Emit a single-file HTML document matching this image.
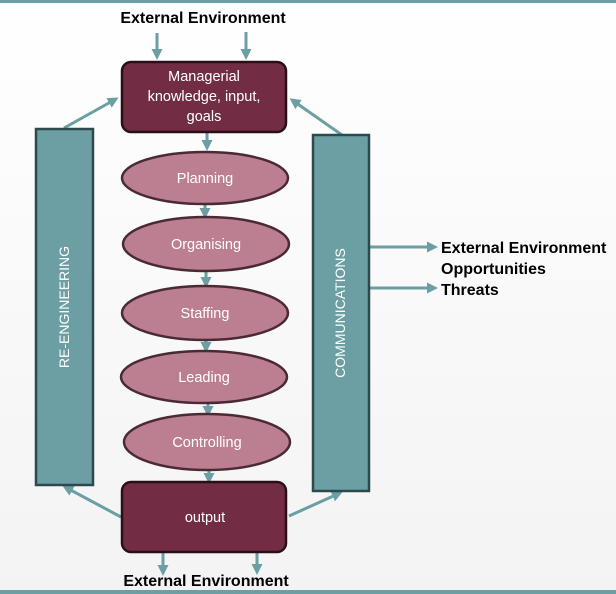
<!DOCTYPE html>
<html><head><style>
body{margin:0;width:616px;height:594px;overflow:hidden;background:linear-gradient(#fff,#f3f3f3);}
svg{display:block}
.b{font-family:"Liberation Sans",sans-serif;font-weight:bold;font-size:16px;fill:#000}
.w{font-family:"Liberation Sans",sans-serif;font-size:14.5px;fill:#fff;text-anchor:middle}
</style></head><body>
<svg width="616" height="594" viewBox="0 0 616 594">
<defs><marker id="a" markerWidth="11" markerHeight="11" refX="8" refY="5.5" orient="auto" markerUnits="userSpaceOnUse"><path d="M0,0 L11,5.5 L0,11 Z" fill="#6b9fa3"/></marker></defs>
<rect x="0" y="0" width="616" height="3" fill="#6b9fa3"/>
<rect x="0" y="590" width="616" height="4" fill="#6b9fa3"/>
<text class="b" x="203" y="23" text-anchor="middle">External Environment</text>
<g stroke="#6b9fa3" stroke-width="3" fill="none" marker-end="url(#a)">
<line x1="157" y1="33" x2="157" y2="57"/>
<line x1="246" y1="32" x2="246" y2="57"/>
<line x1="64" y1="128" x2="116" y2="99"/>
<line x1="342" y1="135" x2="292" y2="100"/>
<line x1="207" y1="131" x2="207" y2="148"/>
<line x1="205" y1="203" x2="205" y2="216"/>
<line x1="206" y1="270" x2="206" y2="285"/>
<line x1="206" y1="339" x2="206" y2="350"/>
<line x1="208" y1="402" x2="208" y2="414"/>
<line x1="209" y1="468" x2="209" y2="481"/>
<line x1="121" y1="517" x2="65" y2="487"/>
<line x1="289" y1="516" x2="340" y2="493"/>
<line x1="163" y1="549" x2="163" y2="573"/>
<line x1="257" y1="548" x2="257" y2="572"/>
<line x1="369" y1="247" x2="435" y2="247"/>
<line x1="369" y1="288" x2="435" y2="288"/>
</g>
<rect x="36" y="129" width="57" height="356" fill="#6b9fa3" stroke="#2c4a4d" stroke-width="2.5"/>
<rect x="313" y="135" width="56" height="356" fill="#6b9fa3" stroke="#2c4a4d" stroke-width="2.5"/>
<text class="w" transform="translate(69,307) rotate(-90)" style="font-size:14px">RE-ENGINEERING</text>
<text class="w" transform="translate(345,313) rotate(-90)" style="font-size:14px">COMMUNICATIONS</text>
<rect x="122" y="62" width="164" height="70" rx="9" fill="#722d45" stroke="#2a0f18" stroke-width="2.5"/>
<text class="w" x="204" y="81">Managerial</text>
<text class="w" x="204" y="101">knowledge, input,</text>
<text class="w" x="204" y="121">goals</text>
<g fill="#bc7f91" stroke="#4a2a35" stroke-width="2.5">
<ellipse cx="205" cy="178" rx="83" ry="26"/>
<ellipse cx="206" cy="244" rx="83" ry="27"/>
<ellipse cx="205" cy="313" rx="83" ry="27"/>
<ellipse cx="204" cy="377" rx="83" ry="26"/>
<ellipse cx="207" cy="442" rx="83" ry="28"/>
</g>
<text class="w" x="205" y="183">Planning</text>
<text class="w" x="206" y="249">Organising</text>
<text class="w" x="205" y="318">Staffing</text>
<text class="w" x="204" y="382">Leading</text>
<text class="w" x="207" y="447">Controlling</text>
<rect x="122" y="482" width="164" height="70" rx="9" fill="#722d45" stroke="#2a0f18" stroke-width="2.5"/>
<text class="w" x="205" y="522">output</text>
<text class="b" x="206" y="586" text-anchor="middle">External Environment</text>
<text class="b" x="441" y="253">External Environment</text>
<text class="b" x="441" y="274">Opportunities</text>
<text class="b" x="441" y="295">Threats</text>
</svg>
</body></html>
